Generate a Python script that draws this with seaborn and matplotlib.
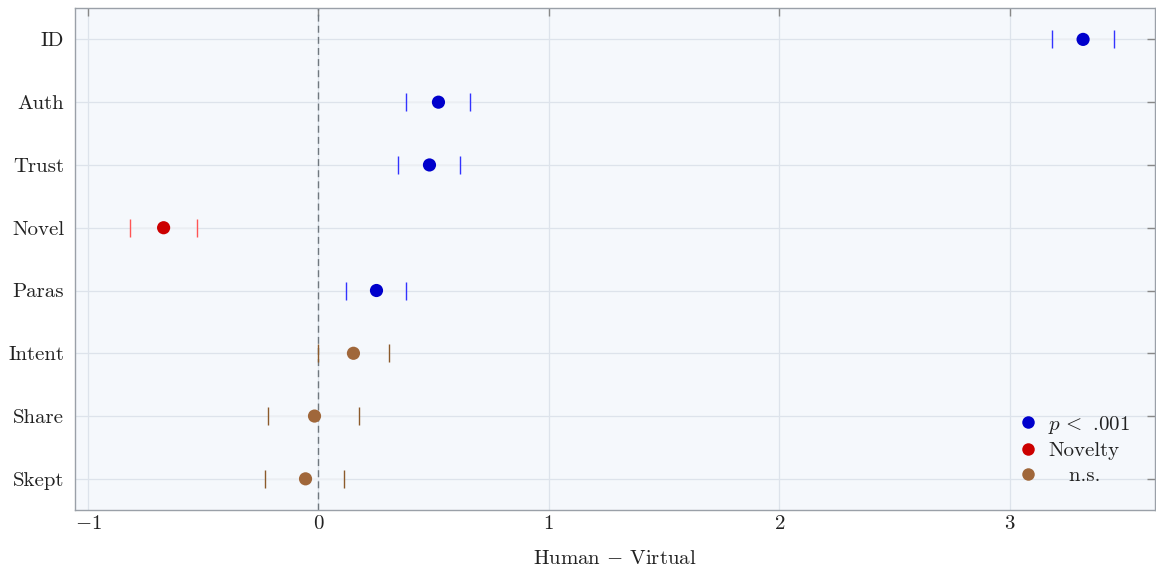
import matplotlib
matplotlib.use("Agg")
import matplotlib.pyplot as plt
import seaborn as sns
import pandas as pd
import numpy as np

categories = ["ID", "Auth", "Trust", "Novel", "Paras", "Intent", "Share", "Skept"]
estimates = [3.319, 0.521, 0.482, -0.672, 0.252, 0.152, -0.017, -0.056]
ci_low = [3.184, 0.382, 0.347, -0.816, 0.121, -0.004, -0.217, -0.230]
ci_high = [3.453, 0.659, 0.616, -0.525, 0.382, 0.308, 0.178, 0.113]
groups = ["p < .001", "p < .001", "p < .001", "Novelty", "p < .001", "n.s.", "n.s.", "n.s."]
group_labels = {"p < .001": r"$p\,<$ .001", "Novelty": "Novelty", "n.s.": "   n.s."}

point_colors = {"p < .001": "#0000CC", "Novelty": "#CC0000", "n.s.": "#A0673A"}
tick_colors = {"p < .001": "#3333FF", "Novelty": "#FF5555", "n.s.": "#8B5A2B"}

df = pd.DataFrame({"cat": categories, "est": estimates, "lo": ci_low,
                   "hi": ci_high, "grp": groups})
df["y"] = np.arange(len(df))

sns.set_theme(style="white")
plt.rcParams["font.family"] = ["cmr10"]
plt.rcParams["mathtext.fontset"] = "cm"
plt.rcParams["axes.formatter.use_mathtext"] = True
plt.rcParams["axes.unicode_minus"] = True

fig, ax = plt.subplots(figsize=(11.56, 5.72), dpi=100)
fig.subplots_adjust(left=0.065, right=0.9995, top=0.986, bottom=0.108)
ax.set_facecolor("#F5F8FC")

for _, r in df.iterrows():
    ax.hlines(r["y"], r["lo"], r["hi"], color="#EEF1F5", lw=1.2, zorder=2)
    ax.scatter([r["lo"], r["hi"]], [r["y"], r["y"]], marker="|", s=160,
               color=tick_colors[r["grp"]], linewidths=1.0, zorder=3)

ax.axvline(0, color="#70787F", lw=1.0, ls=(0, (5, 3)), zorder=2)

sns.scatterplot(data=df, x="est", y="y", hue="grp", palette=point_colors,
                hue_order=["p < .001", "Novelty", "n.s."], s=90,
                edgecolor="none", ax=ax, zorder=4)

ax.set_yticks(df["y"])
ax.set_yticklabels(categories)
ax.set_ylim(7.5, -0.5)
ax.set_xlim(-1.056, 3.633)
ax.set_xticks([-1, 0, 1, 2, 3])
ax.set_xlabel(r"Human $-$ Virtual", fontsize=15, labelpad=12, color="#222222")
ax.set_ylabel("")
ax.grid(True, color="#DDE3EB", lw=0.9, zorder=0)
ax.set_axisbelow(True)
ax.tick_params(direction="in", length=6, width=1, color="#888888",
               top=True, right=True, labelsize=15, labelcolor="#222222")
ax.tick_params(axis="y", pad=8)
for s in ax.spines.values():
    s.set_color("#9AA0A8")
    s.set_linewidth(1.0)

handles, labels = ax.get_legend_handles_labels()
leg = ax.legend(handles, [group_labels[l] for l in labels], loc="lower right",
                frameon=False, fontsize=15, handletextpad=0.0,
                labelspacing=0.3, borderaxespad=0.8)
for t in leg.get_texts():
    t.set_color("#222222")
for h in leg.legend_handles:
    try:
        h.set_markersize(9)
    except AttributeError:
        pass

fig.savefig("out.png", dpi=100)
